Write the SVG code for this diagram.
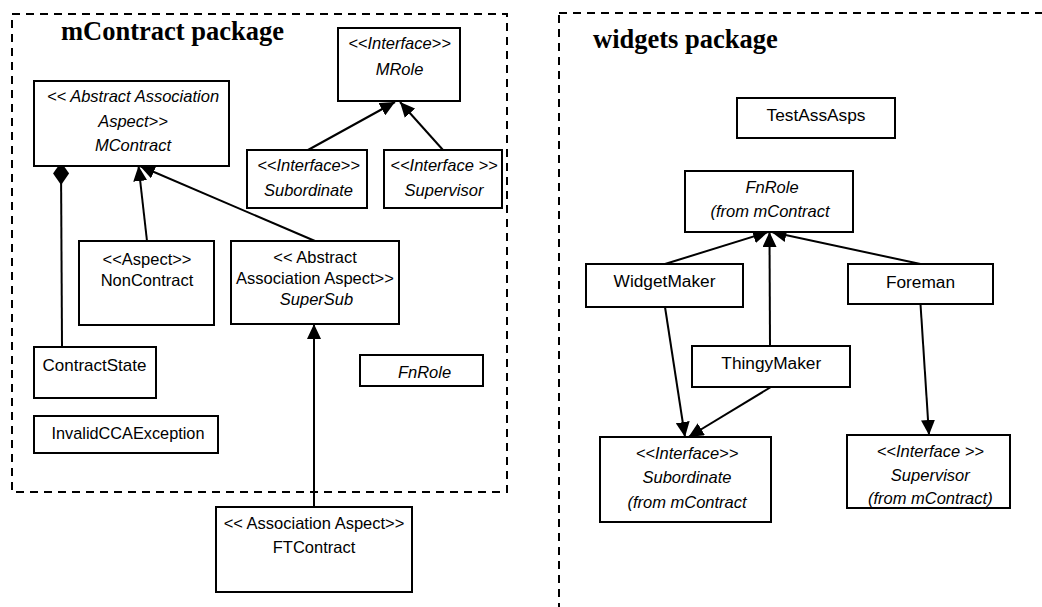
<svg xmlns="http://www.w3.org/2000/svg" width="1042" height="607" viewBox="0 0 1042 607">
  <style>
    .pkg { fill: none; stroke: #000; stroke-width: 2; stroke-dasharray: 8 6; }
    .box { fill: #fff; stroke: #000; stroke-width: 2; }
    .title { font-family: "Liberation Serif", "Times New Roman", serif; font-weight: bold; font-size: 26.5px; fill: #000; }
    .t { font-family: "Liberation Sans", Arial, sans-serif; font-size: 16.5px; fill: #000; text-anchor: middle; }
    .r { font-size: 17.3px; }
    .i { font-style: italic; }
    .edge { fill: none; stroke: #000; stroke-width: 2; }
    .gen { marker-end: url(#tri); }
    .comp { marker-end: url(#diamond); }
  </style>
  <defs>
    <marker id="tri" markerUnits="userSpaceOnUse" markerWidth="15" markerHeight="14" refX="15" refY="7" orient="auto">
      <path d="M0,0 L15,7 L0,14 z" fill="#000"/>
    </marker>
    <marker id="diamond" markerUnits="userSpaceOnUse" markerWidth="23" markerHeight="16" refX="23" refY="8" orient="auto">
      <path d="M0,8 L11.5,0 L23,8 L11.5,16 z" fill="#000"/>
    </marker>
  </defs>

  <rect width="1042" height="607" fill="#fff"/>

  <!-- packages -->
  <g id="pkg-mcontract">
    <rect class="pkg" x="12" y="14" width="495" height="478"/>
    <text class="title" x="61" y="40">mContract package</text>
  </g>
  <g id="pkg-widgets">
    <rect class="pkg" x="559" y="13" width="520" height="640"/>
    <text class="title" x="593" y="48">widgets package</text>
  </g>

  <!-- connectors -->
  <g id="connectors">
    <line class="edge comp" x1="62" y1="347" x2="61" y2="162"/>
    <line class="edge gen" x1="147" y1="241" x2="138.5" y2="166"/>
    <line class="edge gen" x1="315" y1="241" x2="140" y2="166"/>
    <line class="edge gen" x1="308" y1="150" x2="395" y2="102"/>
    <line class="edge gen" x1="443" y1="150" x2="400" y2="102"/>
    <line class="edge gen" x1="314" y1="507" x2="314" y2="324"/>
    <line class="edge gen" x1="665" y1="264" x2="768" y2="232"/>
    <line class="edge gen" x1="770" y1="346" x2="769.5" y2="232"/>
    <line class="edge gen" x1="920.5" y1="264" x2="771.5" y2="232"/>
    <line class="edge gen" x1="665" y1="307" x2="685" y2="437"/>
    <line class="edge gen" x1="771" y1="387" x2="688.5" y2="437"/>
    <line class="edge gen" x1="920.5" y1="304" x2="929" y2="435"/>
  </g>

  <!-- mContract package classes -->
  <g id="MContract">
    <rect class="box" x="34" y="81" width="195" height="85"/>
    <text class="t i" x="133" y="102">&lt;&lt; Abstract Association</text>
    <text class="t i" x="133" y="127">Aspect&gt;&gt;</text>
    <text class="t i" x="133" y="151">MContract</text>
  </g>
  <g id="MRole">
    <rect class="box" x="338" y="28" width="122" height="73"/>
    <text class="t i" x="399.5" y="49">&lt;&lt;Interface&gt;&gt;</text>
    <text class="t i" x="399.5" y="75">MRole</text>
  </g>
  <g id="Subordinate">
    <rect class="box" x="247" y="150" width="120" height="58"/>
    <text class="t i" x="308.5" y="170.5">&lt;&lt;Interface&gt;&gt;</text>
    <text class="t i" x="308.5" y="195.5">Subordinate</text>
  </g>
  <g id="Supervisor">
    <rect class="box" x="384" y="150" width="118" height="58"/>
    <text class="t i" x="444" y="170.5">&lt;&lt;Interface &gt;&gt;</text>
    <text class="t i" x="444" y="195.5">Supervisor</text>
  </g>
  <g id="NonContract">
    <rect class="box" x="79" y="241" width="135" height="84"/>
    <text class="t" x="147" y="265">&lt;&lt;Aspect&gt;&gt;</text>
    <text class="t" x="147" y="286">NonContract</text>
  </g>
  <g id="SuperSub">
    <rect class="box" x="231" y="241" width="168" height="83"/>
    <text class="t" x="315" y="263">&lt;&lt; Abstract</text>
    <text class="t" x="315" y="284">Association Aspect&gt;&gt;</text>
    <text class="t i" x="316.5" y="305">SuperSub</text>
  </g>
  <g id="ContractState">
    <rect class="box" x="34" y="347" width="122" height="51"/>
    <text class="t" x="94.5" y="370.5" style="font-size:17px">ContractState</text>
  </g>
  <g id="InvalidCCAException">
    <rect class="box" x="34" y="416" width="184" height="37"/>
    <text class="t" x="128" y="438.5" style="font-size:16.3px">InvalidCCAException</text>
  </g>
  <g id="FnRole">
    <rect class="box" x="360" y="355" width="123" height="31"/>
    <text class="t i" x="424.5" y="377.5">FnRole</text>
  </g>
  <g id="FTContract">
    <rect class="box" x="216" y="507" width="196" height="85"/>
    <text class="t" x="314" y="529">&lt;&lt; Association Aspect&gt;&gt;</text>
    <text class="t" x="314" y="552.5">FTContract</text>
  </g>

  <!-- widgets package classes -->
  <g id="TestAssAsps">
    <rect class="box" x="737" y="98" width="158" height="40"/>
    <text class="t r" x="816" y="120.5">TestAssAsps</text>
  </g>
  <g id="FnRole-ref">
    <rect class="box" x="685" y="171" width="168" height="61"/>
    <text class="t i" x="772" y="193">FnRole</text>
    <text class="t i" x="770" y="216.5">(from mContract</text>
  </g>
  <g id="WidgetMaker">
    <rect class="box" x="586" y="264" width="157" height="43"/>
    <text class="t r" x="664.5" y="286.5">WidgetMaker</text>
  </g>
  <g id="Foreman">
    <rect class="box" x="848" y="264" width="145" height="40"/>
    <text class="t r" x="920.5" y="287.5">Foreman</text>
  </g>
  <g id="ThingyMaker">
    <rect class="box" x="692" y="346" width="158" height="41"/>
    <text class="t r" x="771.3" y="369.3">ThingyMaker</text>
  </g>
  <g id="Subordinate-ref">
    <rect class="box" x="600" y="437" width="171" height="85"/>
    <text class="t i" x="687" y="459.3">&lt;&lt;Interface&gt;&gt;</text>
    <text class="t i" x="687" y="483.3">Subordinate</text>
    <text class="t i" x="687" y="508">(from mContract</text>
  </g>
  <g id="Supervisor-ref">
    <rect class="box" x="847" y="435" width="163" height="73"/>
    <text class="t i" x="930.3" y="456.7">&lt;&lt;Interface &gt;&gt;</text>
    <text class="t i" x="930.3" y="480.7">Supervisor</text>
    <text class="t i" x="930.3" y="504">(from mContract)</text>
  </g>
</svg>
